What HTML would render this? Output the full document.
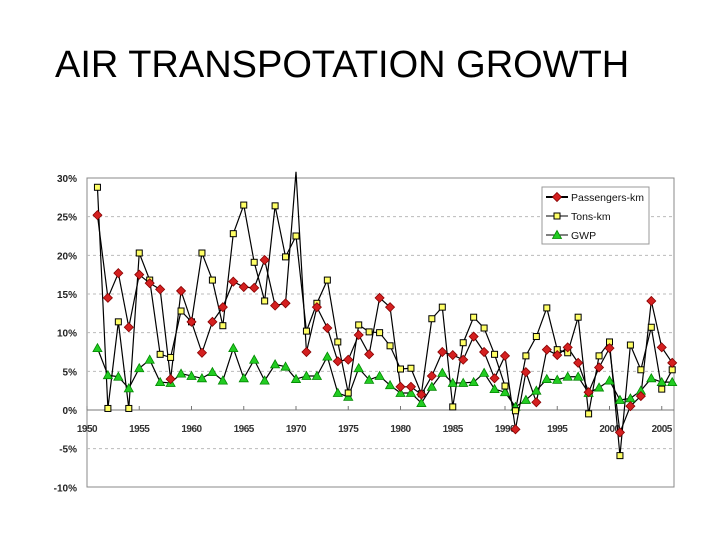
<!DOCTYPE html>
<html><head><meta charset="utf-8"><style>
body{margin:0;background:#fff;}
#t{position:absolute;left:55px;top:44px;font:38px "Liberation Sans",sans-serif;color:#000;margin:0;font-weight:normal}
</style></head><body>
<h1 id="t">AIR TRANSPOTATION GROWTH</h1>
<svg id="c" width="720" height="540" style="position:absolute;left:0;top:0"></svg>
<script>
const years=[];for(let y=1951;y<=2006;y++)years.push(y);
const passengers=[25.2,14.5,17.7,10.7,17.5,16.4,15.6,4.0,15.4,11.4,7.4,11.4,13.3,16.6,15.9,15.8,19.4,13.5,13.8,30.8,7.5,13.3,10.6,6.3,6.5,9.7,7.2,14.5,13.3,3.0,3.0,2.0,4.4,7.5,7.1,6.5,9.5,7.5,4.1,7.0,-2.5,4.9,1.0,7.8,7.1,8.1,6.1,2.3,5.5,8.0,-2.9,0.5,1.8,14.1,8.1,6.1];
const tons=[28.8,0.2,11.4,0.2,20.3,16.8,7.2,6.8,12.8,11.4,20.3,16.8,10.9,22.8,26.5,19.1,14.1,26.4,19.8,22.5,10.2,13.8,16.8,8.8,2.2,11.0,10.1,10.0,8.3,5.3,5.4,2.1,11.8,13.3,0.4,8.7,12.0,10.6,7.2,3.1,-0.1,7.0,9.5,13.2,7.8,7.4,12.0,-0.5,7.0,8.8,-5.9,8.4,5.2,10.7,2.7,5.2];
const gwp=[8.0,4.5,4.3,2.8,5.4,6.5,3.6,3.5,4.7,4.4,4.1,4.9,3.8,8.0,4.1,6.5,3.8,5.9,5.6,4.0,4.4,4.4,6.9,2.2,1.7,5.4,3.9,4.4,3.2,2.2,2.2,0.9,3.0,4.8,3.5,3.5,3.6,4.8,2.7,2.3,0.4,1.3,2.5,4.0,3.9,4.3,4.3,2.2,2.9,3.8,1.3,1.5,2.5,4.1,3.6,3.6];
const yTicks=[30,25,20,15,10,5,0,-5,-10];
const xTicks=[1950,1955,1960,1965,1970,1975,1980,1985,1990,1995,2000,2005];
const L=87,R=674,T=178,B=487;
const X=y=>87+(y-1950)*10.45;
const Y=v=>410-v*(410-T)/30;
const ns="http://www.w3.org/2000/svg",svg=document.getElementById('c');
function mk(tag,at,parent){const e=document.createElementNS(ns,tag);for(const k in at)e.setAttribute(k,at[k]);(parent||svg).appendChild(e);return e;}
const defs=mk('defs',{});
const cp=mk('clipPath',{id:'cp'},defs);mk('rect',{x:L,y:T-8,width:R-L,height:B-T+8},cp);
const cm=mk('clipPath',{id:'cm'},defs);mk('rect',{x:L-6,y:T,width:R-L+12,height:B-T},cm);
let e=mk('rect',{x:L,y:T,width:R-L,height:B-T,fill:'#fff',stroke:'#888','stroke-width':1});

yTicks.forEach(v=>{
 if(v!==0&&v!==30&&v!==-10){const g=mk('line',{x1:L,x2:R,y1:Y(v),y2:Y(v),stroke:'#bbb','stroke-dasharray':'3,3'});
 }
 const t=mk('text',{x:77,y:Y(v)+4,'text-anchor':'end','font-size':'10','font-weight':'bold','font-family':'Liberation Sans Narrow,Liberation Sans,sans-serif',fill:'#222'});
 t.textContent=v+'%';
});
e=mk('line',{x1:L,x2:R,y1:Y(0),y2:Y(0),stroke:'#777'});
xTicks.forEach(y=>{
 mk('line',{x1:X(y),x2:X(y),y1:Y(0),y2:Y(0)-4,stroke:'#777'});
 const t=mk('text',{x:X(y),y:Y(0)+22,'text-anchor':'middle','font-size':'10','font-weight':'bold','font-family':'Liberation Sans Narrow,Liberation Sans,sans-serif',fill:'#333','letter-spacing':'-0.5'});
 t.textContent=y;
});
const g=mk('g',{'clip-path':'url(#cp)'});
const gm=mk('g',{'clip-path':'url(#cm)'});
function series(vals,name,marker){
 const pts=vals.map((v,i)=>X(years[i])+','+Y(v)).join(' ');
 const pl=mk('polyline',{points:pts,fill:'none',stroke:'#000','stroke-width':1.2},g);
 
 const mg=mk('g',{},gm);
 vals.forEach((v,i)=>{const m=marker(X(years[i]),Y(v),mg);});
}
const dia=(x,y,p)=>mk('polygon',{points:`${x},${y-4.5} ${x+4.5},${y} ${x},${y+4.5} ${x-4.5},${y}`,fill:'#d42020',stroke:'#800',"stroke-width":0.8},p);
const sq=(x,y,p)=>mk('rect',{x:x-3,y:y-3,width:6,height:6,fill:'#ffff66',stroke:'#000','stroke-width':1},p);
const tri=(x,y,p)=>mk('polygon',{points:`${x},${y-4.5} ${x+4.5},${y+3.5} ${x-4.5},${y+3.5}`,fill:'#22cc22',stroke:'#080',"stroke-width":0.8},p);
series(gwp,'gwp',tri);series(tons,'tons-km',sq);series(passengers,'passengers-km',dia);
const lg=mk('g',{});
mk('rect',{x:542,y:187,width:107,height:57,fill:'#fff',stroke:'#999'},lg);
[['Passengers-km',dia,197,2],['Tons-km',sq,216,1],['GWP',tri,235,1]].forEach(([lab,f,y,w])=>{
 const eg=mk('g',{},lg);
 mk('line',{x1:546,x2:568,y1:y,y2:y,stroke:'#000','stroke-width':w},eg);f(557,y,eg);
 const t=mk('text',{x:571,y:y+4,'font-size':'10.5','font-family':'Liberation Sans,sans-serif',fill:'#111'},eg);t.textContent=lab;
});
</script>
</body></html>
